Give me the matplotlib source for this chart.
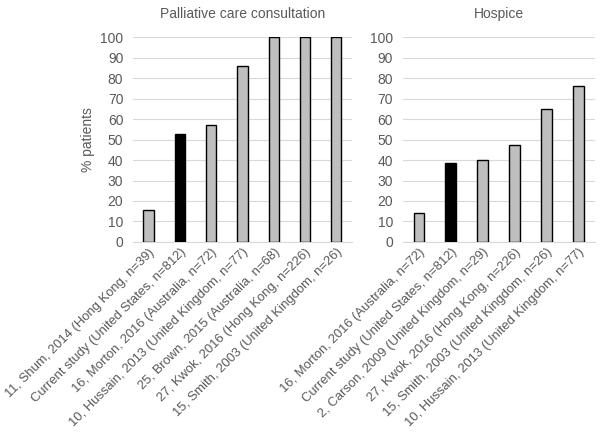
import matplotlib.pyplot as plt

# Palliative care consultation
pcc_labels = ['11, Shum, 2014 (Hong Kong, n=39)',
              'Current study (United States, n=812)',
              '16, Morton, 2016 (Australia, n=72)',
              '10, Hussain, 2013 (United Kingdom, n=77)',
              '25, Brown, 2015 (Australia, n=68)',
              '27, Kwok, 2016 (Hong Kong, n=226)',
              '15, Smith, 2003 (United Kingdom, n=26)']
pcc_values = [15.5, 52.5, 57.1, 85.7, 100, 100, 100]

# Hospice
hos_labels = ['16, Morton, 2016 (Australia, n=72)',
              'Current study (United States, n=812)',
              '2, Carson, 2009 (United Kingdom, n=29)',
              '27, Kwok, 2016 (Hong Kong, n=226)',
              '15, Smith, 2003 (United Kingdom, n=26)',
              '10, Hussain, 2013 (United Kingdom, n=77)']
hos_values = [13.9, 38.5, 40.0, 47.3, 65.0, 76.0]

txt = '#595959'
plt.rcParams['font.family'] = ['Arial', 'Liberation Sans', 'DejaVu Sans']

fig = plt.figure(figsize=(6.03, 4.36), dpi=100)
ax1 = fig.add_axes([0.2206, 0.445, 0.363, 0.47])
ax2 = fig.add_axes([0.668, 0.445, 0.318, 0.47])


def panel(ax, labels, values, title):
    colors = ['black' if l.startswith('Current') else '#bfbfbf' for l in labels]
    x = range(len(labels))
    ax.bar(x, values, width=0.33, color=colors, edgecolor='black', linewidth=1, zorder=3)
    ax.set_xlim(-0.5, len(labels) - 0.5)
    ax.set_ylim(0, 100)
    ax.set_yticks(range(0, 101, 10))
    ax.grid(axis='y', color='#d9d9d9', linewidth=0.8, zorder=0)
    for s in ['top', 'right', 'left']:
        ax.spines[s].set_visible(False)
    ax.spines['bottom'].set_color('#d9d9d9')
    ax.tick_params(axis='both', length=0, colors=txt, labelsize=10)
    ax.tick_params(axis='y', pad=7)
    ax.tick_params(axis='x', pad=3, labelsize=9.4)
    ax.set_xticks(list(x))
    ax.set_xticklabels(labels, rotation=45, ha='right', rotation_mode='anchor')
    ax.set_title(title, color=txt, fontsize=10, pad=14)


panel(ax1, pcc_labels, pcc_values, 'Palliative care consultation')
panel(ax2, hos_labels, hos_values, 'Hospice')
ax1.set_ylabel('% patients', color=txt, fontsize=10)

fig.savefig('out.png', dpi=100)
